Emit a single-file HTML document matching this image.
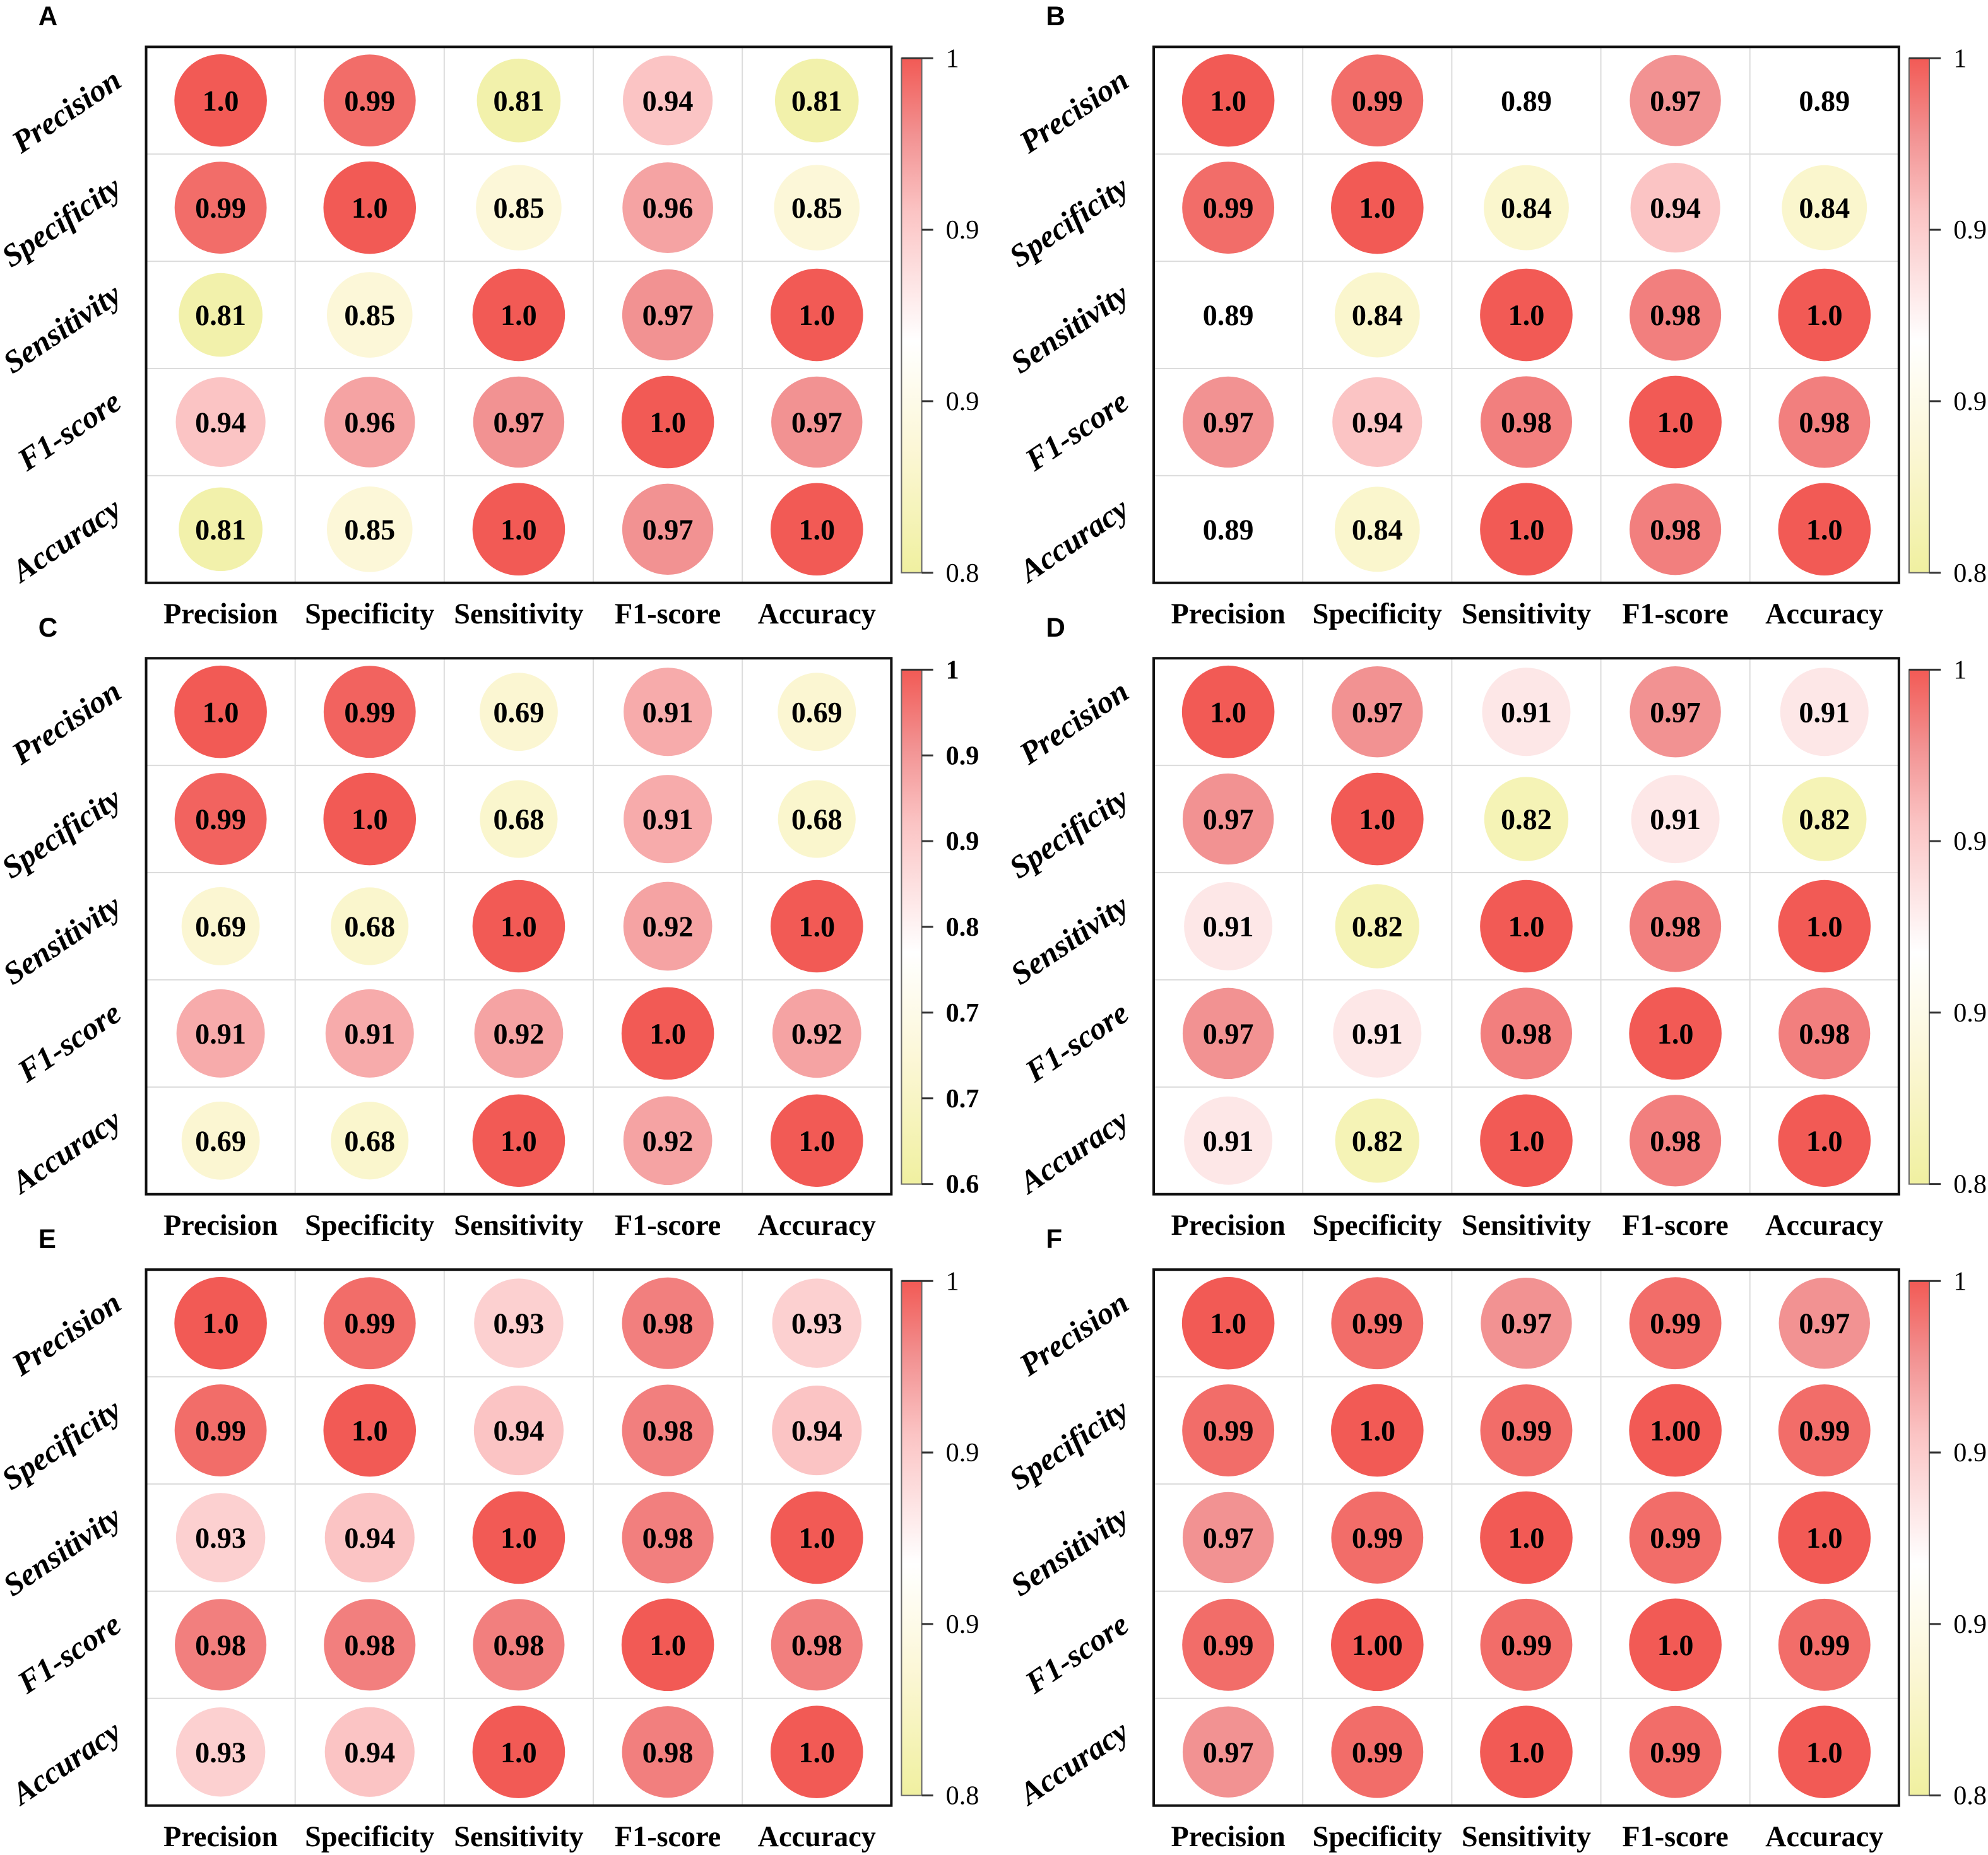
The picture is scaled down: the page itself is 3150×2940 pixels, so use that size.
<!DOCTYPE html>
<html><head><meta charset="utf-8"><style>html,body{margin:0;padding:0;background:#fff}svg{display:block}</style></head>
<body>
<svg id="fig" width="3150" height="2940" viewBox="0 0 1568 1464" xmlns="http://www.w3.org/2000/svg">
<defs>
<linearGradient id="cbar" x1="0" y1="1" x2="0" y2="0">
<stop offset="0" stop-color="#f0f0a0"/><stop offset="0.25" stop-color="#fcf7d8"/><stop offset="0.45" stop-color="#ffffff"/><stop offset="0.7" stop-color="#fbc4c4"/><stop offset="0.85" stop-color="#f29292"/><stop offset="1" stop-color="#f25a55"/>
</linearGradient>
</defs>
</svg>
<script>
const metrics = ["Precision","Specificity","Sensitivity","F1-score","Accuracy"];
const panelLetters = ["A","B","C","D","E","F"];
const panelA = [["1.0","0.99","0.81","0.94","0.81"],["0.99","1.0","0.85","0.96","0.85"],["0.81","0.85","1.0","0.97","1.0"],["0.94","0.96","0.97","1.0","0.97"],["0.81","0.85","1.0","0.97","1.0"]];
const panelB = [["1.0","0.99","0.89","0.97","0.89"],["0.99","1.0","0.84","0.94","0.84"],["0.89","0.84","1.0","0.98","1.0"],["0.97","0.94","0.98","1.0","0.98"],["0.89","0.84","1.0","0.98","1.0"]];
const panelC = [["1.0","0.99","0.69","0.91","0.69"],["0.99","1.0","0.68","0.91","0.68"],["0.69","0.68","1.0","0.92","1.0"],["0.91","0.91","0.92","1.0","0.92"],["0.69","0.68","1.0","0.92","1.0"]];
const panelD = [["1.0","0.97","0.91","0.97","0.91"],["0.97","1.0","0.82","0.91","0.82"],["0.91","0.82","1.0","0.98","1.0"],["0.97","0.91","0.98","1.0","0.98"],["0.91","0.82","1.0","0.98","1.0"]];
const panelE = [["1.0","0.99","0.93","0.98","0.93"],["0.99","1.0","0.94","0.98","0.94"],["0.93","0.94","1.0","0.98","1.0"],["0.98","0.98","0.98","1.0","0.98"],["0.93","0.94","1.0","0.98","1.0"]];
const panelF = [["1.0","0.99","0.97","0.99","0.97"],["0.99","1.0","0.99","1.00","0.99"],["0.97","0.99","1.0","0.99","1.0"],["0.99","1.00","0.99","1.0","0.99"],["0.97","0.99","1.0","0.99","1.0"]];
const colorMins = [0.8,0.8,0.6,0.8,0.8,0.8];
const ticksShort = ["1","0.9","0.9","0.8"];
const ticksLong = ["1","0.9","0.9","0.8","0.7","0.7","0.6"];

const panels=[panelA,panelB,panelC,panelD,panelE,panelF];
const tickSets=[ticksShort,ticksShort,ticksLong,ticksShort,ticksShort,ticksShort];
const stops=[[0,[240,240,160]],[0.25,[252,247,216]],[0.45,[255,255,255]],[0.7,[251,196,196]],[0.85,[242,146,146]],[1,[242,90,85]]];
function colorFor(t){t=Math.max(0,Math.min(1,t));for(let i=1;i<stops.length;i++){if(t<=stops[i][0]){const a=stops[i-1],b=stops[i];const f=(t-a[0])/(b[0]-a[0]);const c=a[1].map((v,k)=>Math.round(v+(b[1][k]-v)*f));return `rgb(${c.join(',')})`;}}return 'rgb(242,90,85)';}
const NS="http://www.w3.org/2000/svg";
const svg=document.getElementById('fig');
function mk(tag,attrs,parent){const e=document.createElementNS(NS,tag);for(const k in attrs)e.setAttribute(k,attrs[k]);parent.appendChild(e);return e;}
const BW=588,BH=423;
panels.forEach((data,p)=>{
  const ox=(p%2)*795, oy=Math.floor(p/2)*482.5;
  const g=mk('g',{},svg);
  
  
  const bx=115+ox, by=37+oy, cw=BW/5, ch=BH/5;
  const lo=colorMins[p];
  const xs=c=>bx+cw*(c+0.5), ys=r=>by+ch*(r+0.5);
  const lt=mk('text',{x:30+ox,y:20+oy,'font-family':'Liberation Sans, sans-serif','font-weight':'bold','font-size':21},g);
  lt.textContent=panelLetters[p];
  
  
  for(let i=1;i<5;i++){
    const l1=mk('line',{x1:bx+cw*i,x2:bx+cw*i,y1:by,y2:by+BH,stroke:'#dcdcdc','stroke-width':1},g);
    
    
    const l2=mk('line',{x1:bx,x2:bx+BW,y1:by+ch*i,y2:by+ch*i,stroke:'#dcdcdc','stroke-width':1},g);
    
    
  }
  data.forEach((row,r)=>row.forEach((s,c)=>{
    const v=parseFloat(s), t=(v-lo)/(1-lo);
    const rad=36.5*(0.5+0.5*v);
    const ci=mk('circle',{cx:xs(c),cy:ys(r),r:rad,fill:colorFor(t)},g);
    
    
    const tx=mk('text',{x:xs(c),y:ys(r)+8,'text-anchor':'middle','font-family':'Liberation Serif, serif','font-weight':'bold','font-size':23},g);
    tx.textContent=s;
    
    
  }));
  const box=mk('rect',{x:bx,y:by,width:BW,height:BH,fill:'none',stroke:'#111','stroke-width':2},g);
  
  
  metrics.forEach((m,i)=>{
    const xl=mk('text',{x:xs(i),y:by+BH+32,'text-anchor':'middle','font-family':'Liberation Serif, serif','font-weight':'bold','font-size':23},g);
    xl.textContent=m;
    
    
    const yx=bx-18, yy=ys(i)-12;
    const yl=mk('text',{x:yx,y:yy,'text-anchor':'end','font-family':'Liberation Serif, serif','font-weight':'bold','font-style':'italic','font-size':25,transform:`rotate(-34 ${yx} ${yy})`},g);
    yl.textContent=m;
    
    
  });
  const cx=bx+BW+8, cy=by+9, chh=406;
  const cb=mk('rect',{x:cx,y:cy,width:16,height:chh,fill:'url(#cbar)',stroke:'#666','stroke-width':1},g);
  
  
  const ticks=tickSets[p];
  ticks.forEach((tk,i)=>{
    const ty=cy+chh*i/(ticks.length-1);
    const tl=mk('line',{x1:i==0?cx:cx+16,x2:cx+25,y1:ty,y2:ty,stroke:'#333','stroke-width':1.5},g);
    
    
    const tt=mk('text',{x:cx+35,y:ty+7,'font-family':'Liberation Serif, serif','font-weight':p==2?'bold':'normal','font-size':21},g);
    tt.textContent=tk;
    
    
  });
});
</script>
</body></html>
